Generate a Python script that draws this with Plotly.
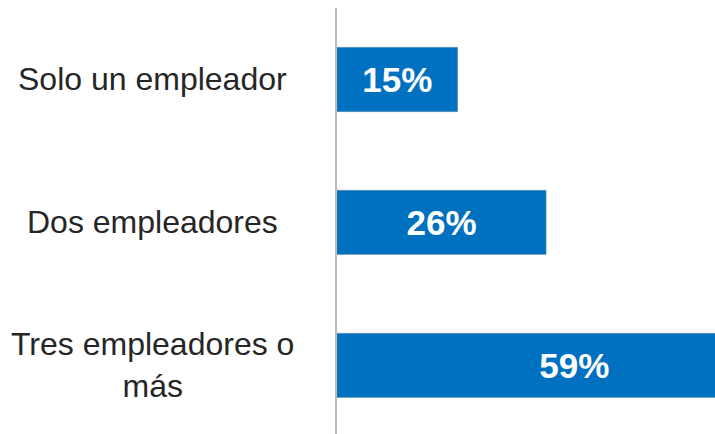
import plotly.graph_objects as go

categories = ["Solo un empleador", "Dos empleadores", "Tres empleadores o<br>más"]
values = [15, 26, 59]

FONT = "Liberation Sans, Arial, sans-serif"
BAR_COLOR = "#0070C0"

fig = go.Figure(
    go.Bar(
        x=values,
        y=list(range(len(categories))),
        orientation="h",
        width=0.45,
        marker=dict(color=BAR_COLOR, line=dict(color="rgba(120,140,160,0.55)", width=0.8)),
        texttemplate="<b>%{x}%</b>",
        textposition="inside",
        insidetextanchor="middle",
        textangle=0,
        constraintext="none",
        textfont=dict(family=FONT, size=35, color="white"),
        cliponaxis=True,
        hoverinfo="skip",
    )
)

# Category labels, centred as a block to the left of the axis line
for i, label in enumerate(categories):
    fig.add_annotation(
        x=-0.4868, xref="paper",
        y=i, yref="y",
        text=label,
        showarrow=False,
        xanchor="center", yanchor="middle",
        align="center",
        font=dict(family=FONT, size=32, color="#262626"),
    )

fig.update_xaxes(
    range=[0, 47], showgrid=False, zeroline=False,
    showticklabels=False, ticks="", showline=False,
)
fig.update_yaxes(
    range=[2.48, -0.5], showgrid=False, zeroline=False,
    showticklabels=False, ticks="",
    showline=True, linecolor="#BDBDBD", linewidth=2,
)

fig.update_layout(
    width=715, height=434,
    margin=dict(l=337, r=0, t=8, b=0),
    paper_bgcolor="white", plot_bgcolor="white",
    showlegend=False,
    font=dict(family=FONT),
)

fig.write_html("out.html")
